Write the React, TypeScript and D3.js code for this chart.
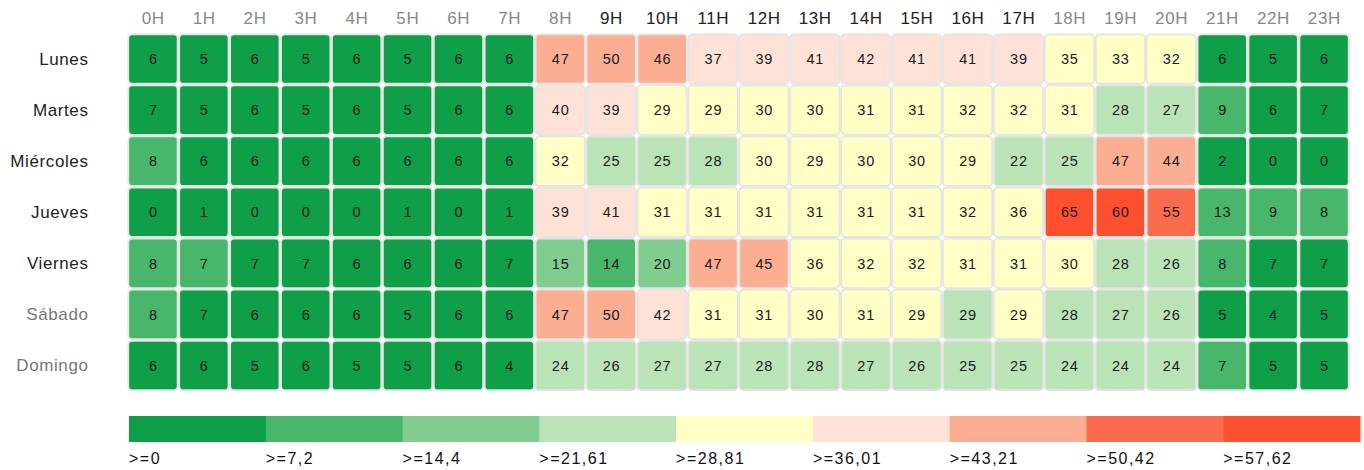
import React, { useEffect, useRef } from "react";
import * as d3 from "d3";

// hours shown on top, days on the left
const hours = [
  "0H", "1H", "2H", "3H", "4H", "5H", "6H", "7H", "8H", "9H", "10H", "11H",
  "12H", "13H", "14H", "15H", "16H", "17H", "18H", "19H", "20H", "21H", "22H", "23H",
];
const days = ["Lunes", "Martes", "Miércoles", "Jueves", "Viernes", "Sábado", "Domingo"];

// values per day (rounded on display)
const lunes = [6, 5, 6, 5, 6, 5, 6, 6, 47, 50, 46, 37, 39, 41, 42, 41, 41, 39, 35, 33, 32, 6, 5, 6];
const martes = [7, 5, 6, 5, 6, 5, 6, 6, 40, 39, 29, 29, 30, 30, 31, 31, 32, 32, 31, 28, 27, 9, 6, 7];
const miercoles = [8, 6, 6, 6, 6, 6, 6, 6, 32, 25, 25, 28, 30, 29, 30, 30, 29, 22, 25, 47, 44, 2, 0, 0];
const jueves = [0, 1, 0, 0, 0, 1, 0, 1, 39, 41, 31, 31, 31, 31, 31, 31, 32, 35.8, 65, 60, 55, 13, 9, 8];
const viernes = [8, 7.3, 7, 7, 6, 6, 6, 7, 15, 14, 20, 47, 45, 35.9, 32, 32, 31, 31, 30, 28, 26, 8, 7, 7];
const sabado = [8, 7, 6, 6, 6, 5, 6, 6, 47, 50, 42, 31, 31, 30, 31, 29, 28.6, 29, 28, 27, 26, 5, 4, 5];
const domingo = [6, 6, 5, 6, 5, 5, 6, 4, 24, 26, 27, 27, 28, 28, 27, 26, 25, 25, 24, 24, 24, 7.3, 5, 5];
const rows = [lunes, martes, miercoles, jueves, viernes, sabado, domingo];

// legend thresholds and colours
const thresholds = [7.2, 14.4, 21.61, 28.81, 36.01, 43.21, 50.42, 57.62];
const legendLabels = [">=0", ">=7,2", ">=14,4", ">=21,61", ">=28,81", ">=36,01", ">=43,21", ">=50,42", ">=57,62"];
const palette = [
  "#0e9f48", "#49b76b", "#81cc8f", "#bae4b7", "#ffffc6",
  "#fee2d7", "#fbae91", "#fb6b4d", "#fe502e",
];

// header / label emphasis as in the reference
const darkHours = ["9H", "10H", "11H", "12H", "13H", "14H", "15H", "16H", "17H"];
const darkDays = ["Lunes", "Martes", "Miércoles", "Jueves", "Viernes"];

const W = 1364;
const H = 470;
const FONT = "'Liberation Sans', Arial, sans-serif";

export default function App() {
  const svgRef = useRef<SVGSVGElement>(null);

  useEffect(() => {
    const svg = d3.select(svgRef.current);
    svg.selectChildren().remove();

    const grid = { left: 127.5, right: 1349.5, top: 33.5, bottom: 391 };

    const x = d3.scaleBand<string>().domain(hours).range([grid.left, grid.right]);
    const y = d3.scaleBand<string>().domain(days).range([grid.top, grid.bottom]);
    const color = d3.scaleThreshold<number, string>().domain(thresholds).range(palette);

    // column headers
    svg
      .append("g")
      .selectAll("text")
      .data(hours)
      .enter()
      .append("text")
      .attr("x", (d) => x(d)! + x.bandwidth() / 2 + 0.3)
      .attr("y", 24)
      .attr("text-anchor", "middle")
      .attr("font-size", 17)
      .attr("letter-spacing", 0.6)
      .attr("font-family", FONT)
      .attr("fill", (d) => (darkHours.includes(d) ? "#222" : "#888"))
      .text((d) => d);

    // row labels
    svg
      .append("g")
      .selectAll("text")
      .data(days)
      .enter()
      .append("text")
      .attr("x", 88.5)
      .attr("y", (d) => y(d)! + y.bandwidth() / 2)
      .attr("dy", "0.35em")
      .attr("text-anchor", "end")
      .attr("font-size", 17)
      .attr("letter-spacing", 0.6)
      .attr("font-family", FONT)
      .attr("fill", (d) => (darkDays.includes(d) ? "#222" : "#777"))
      .text((d) => d);

    // cells
    const cells = rows.flatMap((vals, r) =>
      vals.map((v, c) => ({ day: days[r], hour: hours[c], v }))
    );
    const inset = 0.8;
    const g = svg.append("g");
    g.selectAll("rect")
      .data(cells)
      .enter()
      .append("rect")
      .attr("x", (d) => x(d.hour)! + inset)
      .attr("y", (d) => y(d.day)! + inset)
      .attr("width", x.bandwidth() - inset * 2)
      .attr("height", y.bandwidth() - inset * 2)
      .attr("rx", 4)
      .attr("fill", (d) => color(d.v))
      .attr("stroke", "#e4e4e4")
      .attr("stroke-width", 1.8);

    g.selectAll("text")
      .data(cells)
      .enter()
      .append("text")
      .attr("x", (d) => x(d.hour)! + x.bandwidth() / 2 + 0.4)
      .attr("y", (d) => y(d.day)! + y.bandwidth() / 2)
      .attr("dy", "0.36em")
      .attr("text-anchor", "middle")
      .attr("font-size", 14.5)
      .attr("letter-spacing", 0.8)
      .attr("font-family", FONT)
      .attr("fill", "#1a1a1a")
      .text((d) => Math.round(d.v));

    // legend
    const lx = d3
      .scaleBand<number>()
      .domain(d3.range(palette.length))
      .range([129, 1360]);
    const legend = svg.append("g");
    legend
      .selectAll("rect")
      .data(palette)
      .enter()
      .append("rect")
      .attr("x", (_, i) => lx(i)!)
      .attr("y", 416)
      .attr("width", lx.bandwidth() + 0.5)
      .attr("height", 26)
      .attr("fill", (d) => d);
    legend
      .selectAll("text")
      .data(legendLabels)
      .enter()
      .append("text")
      .attr("x", (_, i) => lx(i)!)
      .attr("y", 464)
      .attr("font-size", 16)
      .attr("letter-spacing", 1.5)
      .attr("font-family", FONT)
      .attr("fill", "#111")
      .text((d) => d);
  }, []);

  return (
    <svg
      ref={svgRef}
      width={W}
      height={H}
      style={{ position: "absolute", left: 0, top: 0, background: "#fff" }}
    />
  );
}
